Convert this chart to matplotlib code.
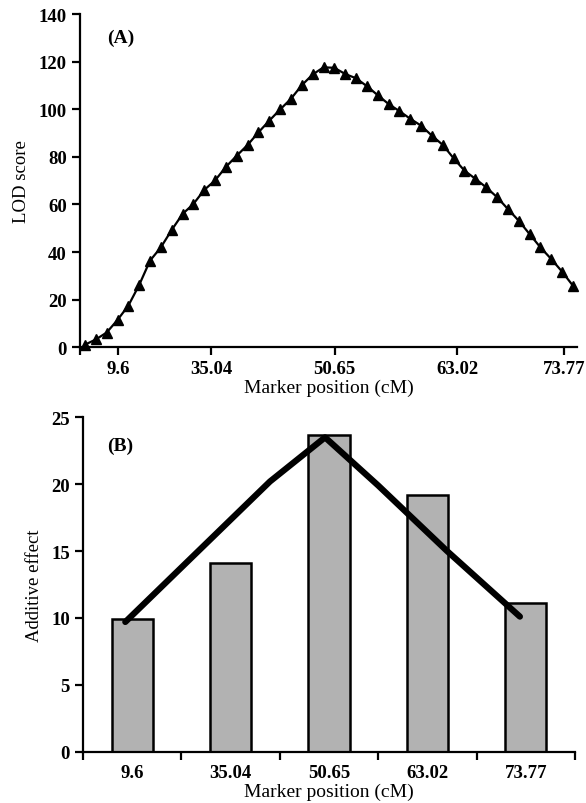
import matplotlib
matplotlib.use("Agg")
import matplotlib.pyplot as plt
import numpy as np

# ---------------- data ----------------
# Panel A: LOD score along marker index
lod_scores = [1.1, 3.3, 6.2, 11.5, 17.5, 26.2, 36.4, 42.0, 49.3, 56.0,
              60.2, 66.1, 70.1, 75.8, 80.5, 85.0, 90.3, 95.2, 99.9, 104.4,
              110.1, 114.6, 117.6, 117.4, 114.8, 113.0, 109.7, 105.9, 102.2, 99.2,
              96.0, 93.1, 88.9, 85.0, 79.4, 74.2, 70.8, 67.2, 63.1, 58.1,
              53.2, 47.6, 42.0, 37.1, 31.8, 25.9]
marker_labels = ["9.6", "35.04", "50.65", "63.02", "73.77"]
marker_label_index = [3.05, 11.62, 23.04, 34.35, 44.2]

# Panel B: additive effects
additive_bars = [9.9, 14.1, 23.7, 19.2, 11.1]
trend_x = [-0.07, 0.7, 1.4, 1.96, 2.5, 3.2, 3.94]
trend_y = [9.7, 15.2, 20.2, 23.5, 19.9, 15.0, 10.1]

# ---------------- style ----------------
plt.rcParams['font.family'] = ['Liberation Serif', 'DejaVu Serif']
TICK_FS = 13.5
LAB_FS = 13.5

fig = plt.figure(figsize=(5.86, 8.04), dpi=100)
W, H = 586, 804

def add_axes(left, right, top, bottom):
    return fig.add_axes([left / W, 1 - bottom / H, (right - left) / W, (bottom - top) / H])

# ---------------- Panel A ----------------
axA = add_axes(80, 577, 15, 348.3)
xi = np.arange(len(lod_scores))
axA.plot(xi, lod_scores, color='black', lw=1.6, marker='^', ms=7.5,
         markerfacecolor='black', markeredgecolor='black', clip_on=False, zorder=3)
axA.set_xlim(-0.46, 45.38)
axA.set_ylim(0, 140)
axA.set_yticks(np.arange(0, 141, 20))
axA.set_xticks(marker_label_index)
axA.set_xticklabels(marker_labels)
axA.set_xticks([-0.46], minor=True)
axA.set_ylabel("LOD score", fontsize=LAB_FS, labelpad=6)
axA.set_xlabel("Marker position (cM)", fontsize=LAB_FS + 0.5, labelpad=1)
axA.text(0.055, 0.93, "(A)", transform=axA.transAxes, fontsize=14,
         fontweight='bold', va='center', ha='left')

# ---------------- Panel B ----------------
axB = add_axes(83, 575, 418.3, 752.7)
cats = np.arange(len(additive_bars))
axB.bar(cats, additive_bars, width=0.42, color='#b2b2b2', edgecolor='black',
        linewidth=1.8, zorder=2)
axB.plot(trend_x, trend_y, color='black', lw=4.5, solid_capstyle='round',
         solid_joinstyle='round', zorder=3)
axB.set_xlim(-0.5, 4.5)
axB.set_ylim(0, 25)
axB.set_yticks(np.arange(0, 26, 5))
axB.set_xticks(cats)
axB.set_xticklabels(marker_labels)
axB.set_xticks(np.arange(-0.5, 4.6, 1.0), minor=True)
axB.set_ylabel("Additive effect", fontsize=LAB_FS, labelpad=6)
axB.set_xlabel("Marker position (cM)", fontsize=LAB_FS + 0.5, labelpad=1)
axB.text(0.05, 0.917, "(B)", transform=axB.transAxes, fontsize=14,
         fontweight='bold', va='center', ha='left')

for ax in (axA, axB):
    for s in ('top', 'right'):
        ax.spines[s].set_visible(False)
    for s in ('left', 'bottom'):
        ax.spines[s].set_linewidth(1.6)
    ax.tick_params(which='both', direction='out', width=1.6, length=6,
                   labelsize=TICK_FS)
    for lab in ax.get_xticklabels() + ax.get_yticklabels():
        lab.set_fontweight('bold')

axA.tick_params(axis='x', which='both', length=6, pad=3)
axB.tick_params(axis='x', which='major', length=0, pad=9)

fig.savefig("out.png", dpi=100)
